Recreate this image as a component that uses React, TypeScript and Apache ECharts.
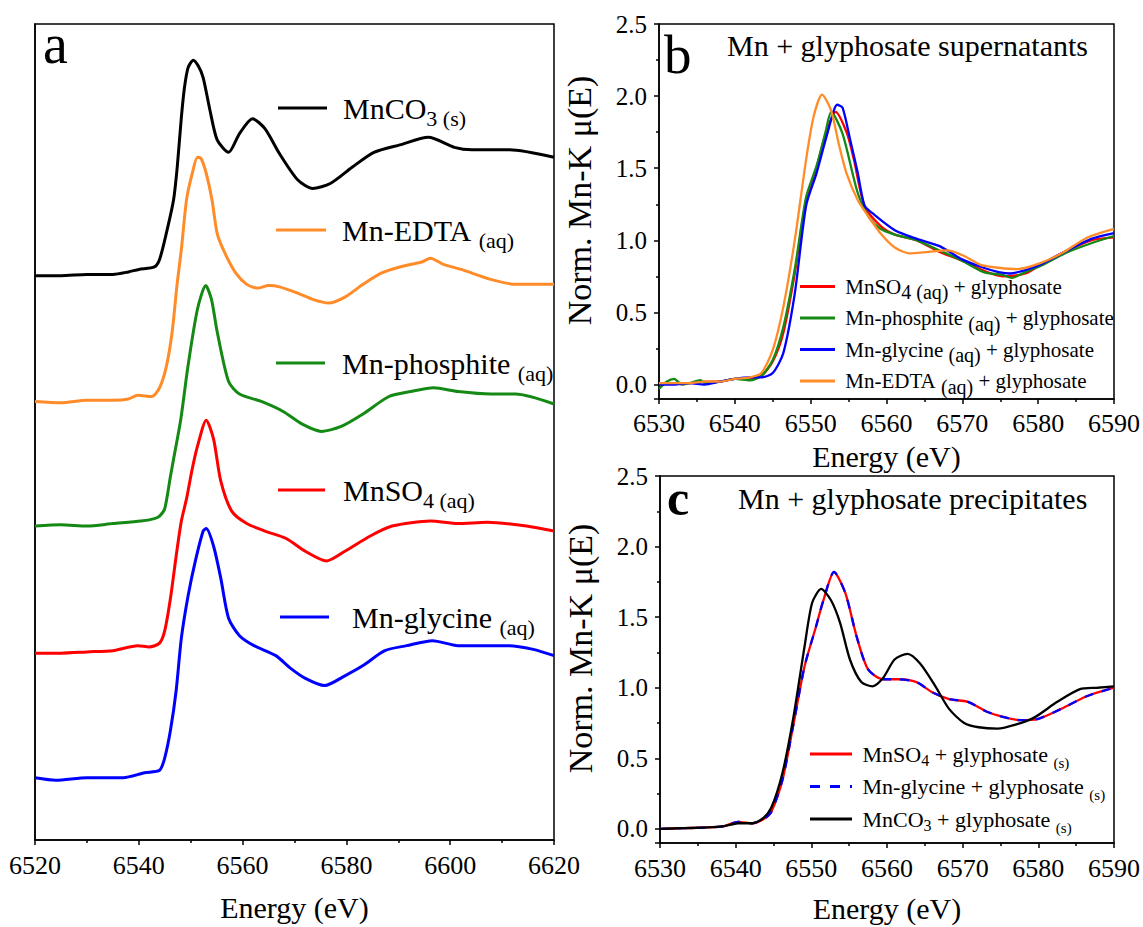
import React, { useEffect, useRef } from 'react';
import * as echarts from 'echarts';

const SERIF = "'Liberation Serif', 'Times New Roman', serif";

// ---------- Panel a : reference spectra (normalized, stacked) ----------
const aCO3E = [6520, 6525, 6530, 6535, 6538, 6540, 6543, 6544, 6545.3, 6546.7, 6547.4, 6548.2, 6548.8, 6549.5, 6550.5, 6551.5, 6552.4, 6553.7, 6555.1, 6557.3, 6559.4, 6561.9, 6564.3, 6567.1, 6570.6, 6573.5, 6576.9, 6581.1, 6585.3, 6590.3, 6595.8, 6600.8, 6604.2, 6611.4, 6620];
const aCO3Mu = [0, 0.0, 0.01, 0.01, 0.03, 0.05, 0.07, 0.13, 0.34, 0.61, 0.87, 1.27, 1.51, 1.67, 1.73, 1.68, 1.59, 1.33, 1.09, 0.99, 1.14, 1.26, 1.18, 0.98, 0.77, 0.70, 0.74, 0.87, 0.99, 1.05, 1.11, 1.03, 1.01, 1.01, 0.95];

const aEDTAE = [6520, 6525, 6530, 6535, 6538, 6539.8, 6542.5, 6544, 6545.3, 6546.4, 6547.4, 6548.2, 6549.2, 6550.3, 6551.3, 6552, 6553, 6554.1, 6555.1, 6556.6, 6558.7, 6560.8, 6562.9, 6565, 6567.1, 6570.6, 6573.5, 6576.6, 6579.8, 6583.2, 6586.7, 6590.3, 6594.5, 6596.2, 6598.7, 6602.1, 6607.8, 6612.6, 6620];
const aEDTAMu = [0, -0.01, 0.01, 0.01, 0.02, 0.05, 0.04, 0.11, 0.28, 0.55, 0.95, 1.22, 1.62, 1.83, 1.96, 1.95, 1.83, 1.62, 1.35, 1.19, 1.03, 0.94, 0.91, 0.93, 0.92, 0.87, 0.82, 0.79, 0.84, 0.94, 1.03, 1.08, 1.12, 1.15, 1.10, 1.06, 0.98, 0.94, 0.94];

const aPhosE = [6520, 6525, 6530, 6535, 6540.4, 6543, 6544, 6545, 6546.1, 6546.8, 6548.1, 6549.5, 6551.3, 6552.9, 6554, 6555.1, 6557.3, 6559.4, 6563.6, 6567.8, 6571.4, 6575.2, 6579, 6583.2, 6588.2, 6592.4, 6596.8, 6601.5, 6607.8, 6612.6, 6620];
const aPhosMu = [0, 0.01, 0.0, 0.02, 0.04, 0.06, 0.08, 0.14, 0.40, 0.56, 0.86, 1.29, 1.74, 1.93, 1.82, 1.56, 1.16, 1.06, 1.00, 0.92, 0.82, 0.76, 0.80, 0.90, 1.04, 1.08, 1.11, 1.08, 1.06, 1.06, 0.98];

const aSO4E = [6520, 6525, 6530, 6535, 6539.8, 6542, 6544, 6545, 6546.1, 6547.2, 6548.2, 6549.2, 6550.3, 6551.3, 6553, 6554.4, 6555.8, 6557.9, 6560.8, 6564.3, 6568.4, 6572, 6576.2, 6579.8, 6584.6, 6588.8, 6596.2, 6601.5, 6607.1, 6614.7, 6620];
const aSO4Mu = [0, 0.0, 0.01, 0.02, 0.06, 0.05, 0.08, 0.18, 0.44, 0.78, 1.06, 1.24, 1.48, 1.66, 1.87, 1.72, 1.38, 1.14, 1.04, 0.98, 0.92, 0.82, 0.74, 0.82, 0.94, 1.02, 1.06, 1.04, 1.05, 1.02, 0.98];

const aGlyE = [6520, 6524, 6530, 6537, 6541.1, 6544, 6545, 6546.1, 6547.2, 6548.2, 6549.5, 6550.9, 6552.4, 6553, 6554.4, 6555.8, 6557.3, 6559.4, 6562.2, 6566.4, 6569.2, 6572, 6575.8, 6579.8, 6583.2, 6587.4, 6591.6, 6596.6, 6601.5, 6607.8, 6611.4, 6616, 6620];
const aGlyMu = [0, -0.02, 0.0, 0.0, 0.04, 0.06, 0.16, 0.38, 0.70, 1.12, 1.46, 1.74, 1.98, 2.0, 1.86, 1.60, 1.28, 1.14, 1.06, 0.98, 0.88, 0.80, 0.74, 0.82, 0.90, 1.02, 1.06, 1.10, 1.06, 1.06, 1.06, 1.03, 0.98];

// vertical stacking offsets (MnCO3, EDTA, phosphite, MnSO4, glycine)
const aOffsets = [4.03, 3.02, 2.02, 1.0, 0];

// ---------- Panel b : supernatants ----------
const bSO4E = [6530, 6532, 6534, 6536, 6538, 6540, 6542, 6543.5, 6545, 6546.4, 6547.9, 6549.4, 6550.8, 6552, 6553.3, 6554.8, 6555.7, 6557.1, 6559.2, 6561.1, 6564, 6567, 6569.9, 6572.8, 6575.3, 6578.3, 6580.6, 6583.5, 6587, 6590];
const bSO4Mu = [0.0, 0.01, 0.01, 0.02, 0.02, 0.04, 0.04, 0.06, 0.16, 0.36, 0.77, 1.28, 1.51, 1.74, 1.89, 1.74, 1.56, 1.24, 1.10, 1.04, 1.00, 0.92, 0.86, 0.79, 0.75, 0.77, 0.84, 0.92, 1.00, 1.02];

const bPhosE = [6530, 6531, 6532, 6533, 6534, 6535.5, 6536, 6538, 6540, 6542, 6543.5, 6545, 6546.4, 6547.9, 6549.4, 6550.8, 6552, 6552.7, 6554.2, 6556.2, 6557.7, 6559.2, 6561.1, 6564, 6567, 6569.9, 6572.8, 6575.3, 6576.5, 6578.3, 6580.6, 6583.5, 6587, 6590];
const bPhosMu = [-0.03, 0.02, 0.04, 0.0, 0.01, 0.03, 0.01, 0.02, 0.04, 0.03, 0.06, 0.17, 0.40, 0.80, 1.30, 1.52, 1.76, 1.89, 1.74, 1.33, 1.16, 1.08, 1.04, 1.00, 0.93, 0.86, 0.78, 0.76, 0.74, 0.78, 0.83, 0.91, 0.98, 1.03];

const bGlyE = [6530, 6532, 6534, 6536, 6538, 6540, 6542, 6543.5, 6545, 6546.4, 6547.9, 6549.4, 6550.8, 6552.2, 6553.5, 6554.2, 6555.2, 6556.2, 6557.1, 6558.1, 6561.1, 6564, 6567, 6569.9, 6572.8, 6574.8, 6576.3, 6578.7, 6580.6, 6583.5, 6587, 6590];
const bGlyMu = [0.0, 0.0, 0.01, 0.0, 0.02, 0.04, 0.05, 0.05, 0.08, 0.22, 0.63, 1.24, 1.47, 1.74, 1.94, 1.92, 1.70, 1.47, 1.24, 1.19, 1.07, 1.01, 0.96, 0.87, 0.81, 0.78, 0.77, 0.80, 0.84, 0.92, 1.01, 1.05];

const bEDTAE = [6530, 6532, 6534, 6536, 6538, 6540, 6542, 6543.5, 6545, 6546.4, 6547.9, 6549.4, 6550.4, 6551.5, 6552.7, 6553.7, 6554.7, 6556.2, 6557.7, 6559.2, 6561.1, 6563, 6565.5, 6568, 6570.3, 6572.4, 6574.8, 6577.2, 6580.2, 6583.1, 6586.5, 6590];
const bEDTAMu = [0.01, 0.01, 0.01, 0.02, 0.02, 0.04, 0.05, 0.08, 0.24, 0.54, 1.0, 1.56, 1.86, 2.01, 1.90, 1.67, 1.47, 1.28, 1.16, 1.05, 0.95, 0.91, 0.92, 0.93, 0.89, 0.83, 0.81, 0.80, 0.84, 0.91, 1.02, 1.08];

// ---------- Panel c : precipitates ----------
const cSO4E = [6530, 6533, 6536.4, 6538.5, 6540.3, 6542.2, 6543.7, 6544.7, 6546.2, 6547.6, 6549.1, 6550.6, 6551.6, 6553, 6554.5, 6556, 6557.5, 6559.5, 6561.5, 6563.9, 6565.9, 6568.2, 6570.7, 6573.2, 6575.6, 6577.6, 6580, 6583, 6586.4, 6590];
const cSO4Mu = [0, 0.005, 0.01, 0.02, 0.05, 0.04, 0.07, 0.12, 0.35, 0.73, 1.15, 1.43, 1.62, 1.82, 1.67, 1.36, 1.13, 1.06, 1.06, 1.04, 0.97, 0.92, 0.90, 0.83, 0.79, 0.77, 0.78, 0.85, 0.94, 1.00];
const cGlyE = cSO4E;
const cGlyMu = cSO4Mu;
const cCO3E = [6530, 6533, 6536.4, 6538.5, 6540.3, 6542.2, 6543.5, 6544.7, 6546.2, 6547.6, 6549.1, 6550.1, 6551.3, 6552.6, 6553.8, 6555.1, 6556.6, 6558.1, 6559.5, 6561, 6562.7, 6564.4, 6566.4, 6568.2, 6570.2, 6572.1, 6574.6, 6577.1, 6579.5, 6582.5, 6585.5, 6587.8, 6590];
const cCO3Mu = [0, 0.005, 0.01, 0.02, 0.04, 0.04, 0.07, 0.15, 0.40, 0.78, 1.29, 1.60, 1.70, 1.62, 1.46, 1.20, 1.04, 1.01, 1.07, 1.20, 1.24, 1.17, 1.01, 0.85, 0.75, 0.72, 0.71, 0.74, 0.79, 0.90, 0.99, 1.00, 1.01];

const aTicks = [6520, 6620, 20];
const bcTicks = [6530, 6590, 10];

const C_BLACK = '#000000';
const C_ORANGE = '#ff8c28';
const C_GREEN = '#148a14';
const C_RED = '#ff0000';
const C_BLUE = '#0000ff';

const bNames = ['MnSO4 (aq) + glyphosate', 'Mn-phosphite (aq) + glyphosate', 'Mn-glycine (aq) + glyphosate', 'Mn-EDTA (aq) + glyphosate'];
const bRich: Record<string, string> = {
  'MnSO4 (aq) + glyphosate': '{m| MnSO}{s|4 (aq)}{m| + glyphosate}',
  'Mn-phosphite (aq) + glyphosate': '{m| Mn-phosphite }{s|(aq)}{m| + glyphosate}',
  'Mn-glycine (aq) + glyphosate': '{m| Mn-glycine }{s|(aq)}{m| + glyphosate}',
  'Mn-EDTA (aq) + glyphosate': '{m| Mn-EDTA }{s|(aq)}{m| + glyphosate}',
};
const cNames = ['MnSO4 + glyphosate (s)', 'Mn-glycine + glyphosate (s)', 'MnCO3 + glyphosate (s)'];
const cRich: Record<string, string> = {
  'MnSO4 + glyphosate (s)': '{m| MnSO}{d|4}{m| + glyphosate }{s|(s)}',
  'Mn-glycine + glyphosate (s)': '{m| Mn-glycine + glyphosate }{s|(s)}',
  'MnCO3 + glyphosate (s)': '{m| MnCO}{d|3}{m| + glyphosate }{s|(s)}',
};

const zip = (e: number[], m: number[], off = 0) => e.map((x, i) => [x, +(m[i] + off).toFixed(3)]);

const DASH_ICON = 'path://M0,0H10V3H0Z M20,0H30V3H20Z M40,0H42V3H40Z';

export default function App() {
  const ref = useRef<HTMLDivElement>(null);
  useEffect(() => {
    document.body.style.margin = '0';
    const chart = echarts.init(ref.current!, null, { renderer: 'svg' });
    const black = { color: '#000', width: 1.5 };
    const xAxis = (gridIndex: number, t: number[], margin: number, gap: number) => ({
      type: 'value', gridIndex, min: t[0], max: t[1], interval: t[2],
      name: 'Energy (eV)', nameLocation: 'middle', nameGap: gap,
      nameTextStyle: { fontFamily: SERIF, fontSize: 30, color: '#000' },
      axisLine: { show: true, onZero: false, lineStyle: black },
      axisTick: { show: true, inside: false, length: 5, lineStyle: black },
      minorTick: { show: true, splitNumber: 2, length: 3, lineStyle: black },
      axisLabel: { fontFamily: SERIF, fontSize: 26, color: '#000', margin, formatter: (v: number) => String(v) },
      splitLine: { show: false },
    });
    const yAxisBC = (gridIndex: number) => ({
      type: 'value', gridIndex, min: -0.1, max: 2.5, splitNumber: 5,
      name: 'Norm. Mn-K \u03bc(E)', nameLocation: 'middle', nameGap: 63,
      nameTextStyle: { fontFamily: SERIF, fontSize: 34, color: '#000', padding: [0, 0, 0, 22] },
      axisLine: { show: true, onZero: false, lineStyle: black },
      axisTick: { show: true, inside: false, length: 5, lineStyle: black },
      minorTick: { show: true, splitNumber: 2, length: 3, lineStyle: black },
      axisLabel: {
        fontFamily: SERIF, fontSize: 25, color: '#000', margin: 12,
        formatter: (v: number) => (v < -0.01 ? '' : v.toFixed(1)),
      },
      splitLine: { show: false },
    });
    const line = (name: string, x: number, y: number, data: number[][], color: string, width: number, type: any = 'solid') => ({
      type: 'line', name, xAxisIndex: x, yAxisIndex: y, data, showSymbol: false, symbol: 'none',
      smooth: 0.25,
      lineStyle: { color, width, type }, itemStyle: { color },
    });
    const gridStyle = { show: true, borderColor: '#000', borderWidth: 1.5, backgroundColor: 'rgba(0,0,0,0)' };

    const aLabels = [
      { y: 108, x1: 278, x2: 327, tx: 343, color: C_BLACK, text: '{m|MnCO}{s|3 (s)}' },
      { y: 230, x1: 276, x2: 326, tx: 342, color: C_ORANGE, text: '{m|Mn-EDTA }{s|(aq)}' },
      { y: 363, x1: 276, x2: 325, tx: 342, color: C_GREEN, text: '{m|Mn-phosphite }{s|(aq)}' },
      { y: 490, x1: 278, x2: 325, tx: 343, color: C_RED, text: '{m|MnSO}{s|4 (aq)}' },
      { y: 617, x1: 280, x2: 329, tx: 352, color: C_BLUE, text: '{m|Mn-glycine }{s|(aq)}' },
    ];
    const aRich = {
      m: { fontFamily: SERIF, fontSize: 30, lineHeight: 32, fill: '#000' },
      s: { fontFamily: SERIF, fontSize: 22, lineHeight: 32, padding: [20, 0, 0, 0], fill: '#000' },
    };
    const graphic: any[] = [];
    aLabels.forEach((l) => {
      graphic.push({ type: 'line', shape: { x1: l.x1, y1: l.y, x2: l.x2, y2: l.y }, style: { stroke: l.color, lineWidth: 3 } });
      graphic.push({ type: 'text', x: l.tx, y: l.y, style: { text: l.text, rich: aRich, align: 'left', verticalAlign: 'middle', fill: '#000' } });
    });
    graphic.push({ type: 'text', x: 43, y: 44, style: { text: 'a', fontFamily: SERIF, fontSize: 56, fill: '#000', align: 'left', verticalAlign: 'middle' } });
    graphic.push({ type: 'text', x: 664, y: 54, style: { text: 'b', fontFamily: SERIF, fontSize: 55, fill: '#000', align: 'left', verticalAlign: 'middle' } });
    graphic.push({ type: 'text', x: 667, y: 498, style: { text: 'c', fontFamily: SERIF, fontSize: 50, fontWeight: 'bold', fill: '#000', align: 'left', verticalAlign: 'middle' } });
    graphic.push({ type: 'text', x: 727, y: 45, style: { text: 'Mn + glyphosate supernatants', fontFamily: SERIF, fontSize: 30, fill: '#000', align: 'left', verticalAlign: 'middle' } });
    graphic.push({ type: 'text', x: 738, y: 498, style: { text: 'Mn + glyphosate precipitates', fontFamily: SERIF, fontSize: 30, fill: '#000', align: 'left', verticalAlign: 'middle' } });

    const legendCommon = { orient: 'vertical', selectedMode: false, itemHeight: 3, padding: 0 };
    const option: any = {
      animation: false,
      backgroundColor: '#fff',
      grid: [
        { left: 35, top: 24, width: 519, height: 819, ...gridStyle },
        { left: 659, top: 24, width: 455, height: 375, ...gridStyle },
        { left: 660, top: 476, width: 456, height: 367, ...gridStyle },
      ],
      xAxis: [xAxis(0, aTicks, 12, 52), xAxis(1, bcTicks, 11, 42), xAxis(2, bcTicks, 12, 50)],
      yAxis: [
        {
          type: 'value', gridIndex: 0, min: -0.5, max: 6.05,
          axisLine: { show: true, lineStyle: black }, axisTick: { show: false }, axisLabel: { show: false }, splitLine: { show: false },
        },
        yAxisBC(1),
        yAxisBC(2),
      ],
      legend: [
        {
          ...legendCommon,
          data: bNames.map((n) => ({ name: n, icon: 'rect' })),
          left: 800, top: 271, itemWidth: 35, itemGap: 0.5,
          formatter: (n: string) => bRich[n],
          textStyle: {
            color: '#000', fontFamily: SERIF, fontSize: 21,
            rich: {
              m: { fontFamily: SERIF, fontSize: 21, lineHeight: 24, color: '#000' },
              s: { fontFamily: SERIF, fontSize: 20, lineHeight: 24, padding: [11, 0, 0, 0], color: '#000' },
            },
          },
        },
        {
          ...legendCommon,
          data: [
            { name: cNames[0], icon: 'rect' },
            { name: cNames[1], icon: DASH_ICON },
            { name: cNames[2], icon: 'rect' },
          ],
          left: 810, top: 738, itemWidth: 42, itemGap: 0.5,
          formatter: (n: string) => cRich[n],
          textStyle: {
            color: '#000', fontFamily: SERIF, fontSize: 22,
            rich: {
              m: { fontFamily: SERIF, fontSize: 22, lineHeight: 24, color: '#000' },
              d: { fontFamily: SERIF, fontSize: 16, lineHeight: 24, padding: [12, 0, 0, 0], color: '#000' },
              s: { fontFamily: SERIF, fontSize: 15, lineHeight: 24, padding: [17, 0, 0, 0], color: '#000' },
            },
          },
        },
      ],
      graphic,
      series: [
        line('Mn-glycine (aq)', 0, 0, zip(aGlyE, aGlyMu, aOffsets[4]), C_BLUE, 3),
        line('MnSO4 (aq)', 0, 0, zip(aSO4E, aSO4Mu, aOffsets[3]), C_RED, 3),
        line('Mn-phosphite (aq)', 0, 0, zip(aPhosE, aPhosMu, aOffsets[2]), C_GREEN, 3),
        line('Mn-EDTA (aq)', 0, 0, zip(aEDTAE, aEDTAMu, aOffsets[1]), C_ORANGE, 3),
        line('MnCO3 (s)', 0, 0, zip(aCO3E, aCO3Mu, aOffsets[0]), C_BLACK, 3),

        line(bNames[0], 1, 1, zip(bSO4E, bSO4Mu), C_RED, 2.3),
        line(bNames[1], 1, 1, zip(bPhosE, bPhosMu), C_GREEN, 2.3),
        line(bNames[2], 1, 1, zip(bGlyE, bGlyMu), C_BLUE, 2.3),
        line(bNames[3], 1, 1, zip(bEDTAE, bEDTAMu), C_ORANGE, 2.3),

        line(cNames[0], 2, 2, zip(cSO4E, cSO4Mu), C_RED, 2.3),
        line(cNames[1], 2, 2, zip(cGlyE, cGlyMu), C_BLUE, 2.3, [9, 9]),
        line(cNames[2], 2, 2, zip(cCO3E, cCO3Mu), C_BLACK, 2.3),
      ],
    };
    chart.setOption(option);
    return () => chart.dispose();
  }, []);
  return <div ref={ref} style={{ position: 'absolute', left: 0, top: 0, width: 1143, height: 927, background: '#fff' }} />;
}
